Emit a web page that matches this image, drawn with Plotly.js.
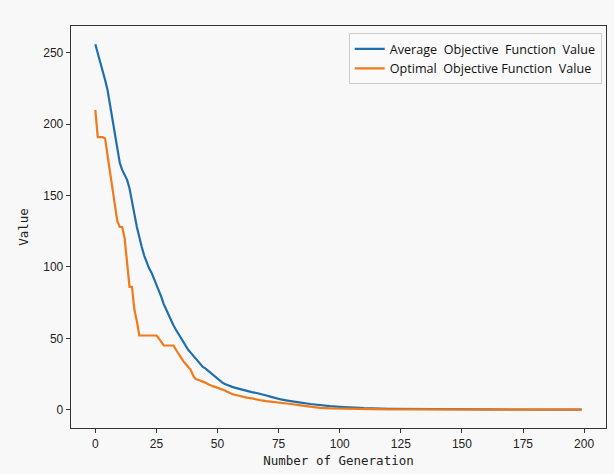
<!DOCTYPE html>
<html><head><meta charset="utf-8">
<script src="https://cdn.plot.ly/plotly-3.0.1.min.js"></script>
<style>html,body{margin:0;padding:0;background:#f8f8f8;}</style>
</head><body>
<div id="chart" style="width:614px;height:474px;"></div>
<script>
const avgGen = [0,1,2,3,4,5,6,7,8,9,10,11,12,13,14,15,16,17,18,19,20,21,22,23,24,25,26,27,28,29,30,31,32,33,34,35,36,37,38,39,40,41,42,43,44,45,46,47,48,49,50,51,52,53,54,55,56,57,58,59,60,62,64,66,68,70,72,74,76,78,80,84,88,92,96,100,105,110,120,130,140,150,160,175,190,199];
const avgVal = [256,250,243,238,231,224,214,203,193,183,173,168,165,161,155,147,137,128,120,114,108,103,99,96,92,87,84,79,74,70,66,62,59,56,53,50,47,45,42,40,38,36,34,32,30,29,27.5,26,25,23.5,22,20.5,19,18,17.2,16.5,16,15.5,15,14.5,14,13,12.3,11.7,11,10,9,8,7.2,6.6,6.2,5,4,3,2.5,2,1.5,1.1,0.7,0.5,0.35,0.25,0.2,0.15,0.1,0.1];
const optGen = [0,1,2,3,4,5,6,7,8,9,10,11,12,13,14,15,16,17,18,19,20,21,22,23,24,25,26,27,28,29,30,31,32,33,34,35,36,37,38,39,40,41,42,43,44,45,46,47,48,49,50,51,52,53,54,55,56,57,58,59,60,62,64,66,68,70,72,74,76,78,80,84,88,92,96,100,105,110,120,130,150,175,199];
const optVal = [210,191,191,191,190,178,166,155,143,132,128,128,120,100,86,86,70,62,52,52,52,52,52,52,52,52,50,47,45,45,45,45,45,42,39,37,34,32,30,28,24,21.5,21,20.5,20,19,18,17,16.5,16,15.5,14.5,14,13.5,12.5,11.5,11,10.5,10,9.5,9,8.5,8,7,6.5,6,5.5,5,4.7,4.3,4,3,2,1.3,1,0.8,0.6,0.5,0.3,0.2,0.1,0.05,0.05];
const xTicks = [0,25,50,75,100,125,150,175,200];
const yTicks = [0,50,100,150,200,250];

const traces = [
  {x: avgGen, y: avgVal, type:'scatter', mode:'lines', name:'Average  Objective  Function  Value',
   line:{color:'#1f6fae', width:2.2}},
  {x: optGen, y: optVal, type:'scatter', mode:'lines', name:'Optimal  Objective Function  Value',
   line:{color:'#f07a1a', width:2.2}}
];
const axisCommon = {showgrid:false, zeroline:false, showline:true, mirror:true, linecolor:'#333', linewidth:1.3,
  ticks:'outside', ticklen:4, tickcolor:'#333', tickfont:{family:'Liberation Sans, Arial', size:12, color:'#222'}};
const layout = {
  width:614, height:474,
  margin:{l:71, r:8, t:26, b:46},
  paper_bgcolor:'#f8f8f8', plot_bgcolor:'#f8f8f8',
  showlegend:true,
  legend:{x:0.992, y:0.982, xanchor:'right', yanchor:'top', bgcolor:'#fafafa', bordercolor:'#cccccc', borderwidth:1,
    font:{family:'Open Sans, Noto Sans', size:12.6, color:'#111'}, itemwidth:30, tracegroupgap:4},
  xaxis:Object.assign({}, axisCommon, {range:[-9.95,208.95], tickvals:xTicks, ticktext:xTicks.map(String),
    title:{text:'Number of Generation', font:{family:'DejaVu Sans Mono', size:12.5, color:'#222'}, standoff:6}}),
  yaxis:Object.assign({}, axisCommon, {range:[-12.8,268.8], tickvals:yTicks, ticktext:yTicks.map(String),
    title:{text:'Value', font:{family:'DejaVu Sans Mono', size:12.5, color:'#222'}, standoff:12}})
};
Plotly.newPlot('chart', traces, layout, {displayModeBar:false, staticPlot:true});
</script>
</body></html>
